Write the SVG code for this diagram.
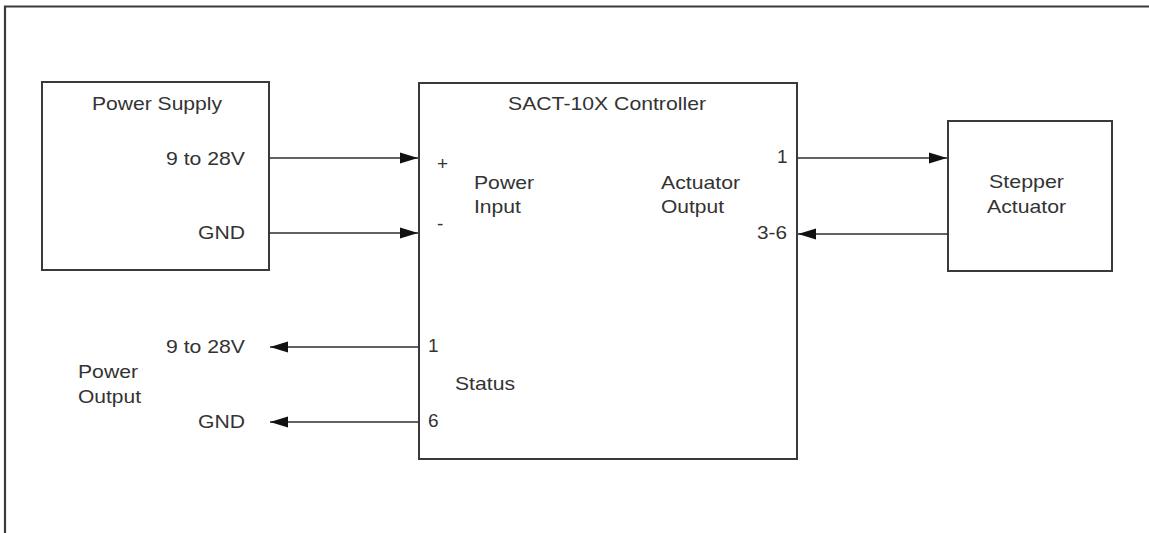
<svg xmlns="http://www.w3.org/2000/svg" width="1149" height="533" viewBox="0 0 1149 533">
<style>
.box{fill:#fff;stroke:#3a3a3a;stroke-width:2}
.frame{fill:none;stroke:#3a3a3a;stroke-width:2.2}
.wire{fill:none;stroke:#2e2e2e;stroke-width:1.6}
text{font-family:"Liberation Sans",Arial,sans-serif;font-size:19px;fill:#333}
</style>
<defs>
<marker id="arr" markerUnits="userSpaceOnUse" markerWidth="20" markerHeight="14" refX="18" refY="6" orient="auto">
<path d="M0,0.5 L18,6 L0,11.5 Z" fill="#111"/>
</marker>
</defs>
<rect width="1149" height="533" fill="#fff"/>
<path class="frame" d="M5,533 V6.5 H1149"/>
<g id="power-supply">
<rect class="box" x="42" y="82" width="227" height="188"/>
<text x="92" y="110" textLength="130" lengthAdjust="spacingAndGlyphs">Power Supply</text>
<text x="166" y="165" textLength="79" lengthAdjust="spacingAndGlyphs">9 to 28V</text>
<text x="198" y="239" textLength="47" lengthAdjust="spacingAndGlyphs">GND</text>
</g>
<g id="controller">
<rect class="box" x="419" y="83" width="378" height="376"/>
<text x="508" y="110" textLength="198" lengthAdjust="spacingAndGlyphs">SACT-10X Controller</text>
<text x="437" y="170">+</text>
<text x="437" y="230">-</text>
<text x="474" y="189" textLength="60" lengthAdjust="spacingAndGlyphs">Power</text>
<text x="474" y="213" textLength="47" lengthAdjust="spacingAndGlyphs">Input</text>
<text x="661" y="189" textLength="79" lengthAdjust="spacingAndGlyphs">Actuator</text>
<text x="661" y="213" textLength="63" lengthAdjust="spacingAndGlyphs">Output</text>
<text x="777" y="163">1</text>
<text x="757" y="239" textLength="30" lengthAdjust="spacingAndGlyphs">3-6</text>
<text x="428" y="352">1</text>
<text x="455" y="390" textLength="60" lengthAdjust="spacingAndGlyphs">Status</text>
<text x="428" y="427">6</text>
</g>
<g id="stepper-actuator">
<rect class="box" x="948" y="121" width="164" height="150"/>
<text x="989" y="188" textLength="75" lengthAdjust="spacingAndGlyphs">Stepper</text>
<text x="987" y="213" textLength="79" lengthAdjust="spacingAndGlyphs">Actuator</text>
</g>
<g id="power-output">
<text x="166" y="353" textLength="79" lengthAdjust="spacingAndGlyphs">9 to 28V</text>
<text x="78" y="378" textLength="60" lengthAdjust="spacingAndGlyphs">Power</text>
<text x="78" y="403" textLength="63" lengthAdjust="spacingAndGlyphs">Output</text>
<text x="198" y="428" textLength="47" lengthAdjust="spacingAndGlyphs">GND</text>
</g>
<g id="connectors">
<path class="wire" d="M269,158 H418" marker-end="url(#arr)"/>
<path class="wire" d="M269,233 H418" marker-end="url(#arr)"/>
<path class="wire" d="M797,158 H947" marker-end="url(#arr)"/>
<path class="wire" d="M948,234 H798" marker-end="url(#arr)"/>
<path class="wire" d="M419,347 H270" marker-end="url(#arr)"/>
<path class="wire" d="M419,422 H270" marker-end="url(#arr)"/>
</g>
</svg>
